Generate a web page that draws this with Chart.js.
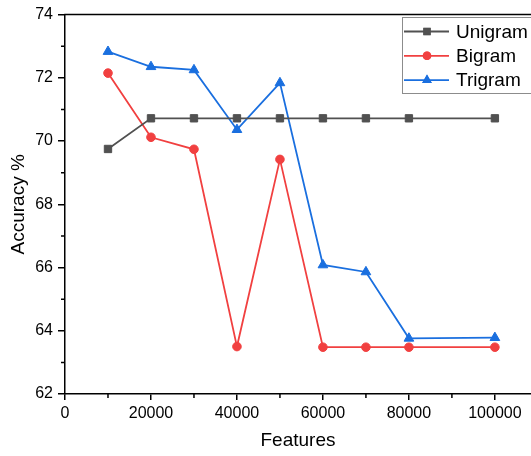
<!DOCTYPE html>
<html lang="en">
  <head>
    <meta charset="UTF-8" />
    <title>Accuracy vs features</title>
    <style>
      html, body { margin: 0; padding: 0; background: #fff; }
      #chart { display: block; }
    </style>
  </head>
  <body>
    <canvas id="chart" width="531" height="456"></canvas>
    <script src="https://cdn.jsdelivr.net/npm/chart.js@4"></script>
    <script>
      const features = [10000, 20000, 30000, 40000, 50000, 60000, 70000, 80000, 100000];
      const unigram = [69.75, 70.72, 70.72, 70.72, 70.72, 70.72, 70.72, 70.72, 70.72];
      const bigram = [72.15, 70.12, 69.74, 63.5, 69.42, 63.48, 63.48, 63.48, 63.48];
      const trigram = [72.83, 72.35, 72.25, 70.36, 71.84, 66.08, 65.86, 63.76, 63.78];
      const seriesNames = ["Unigram", "Bigram", "Trigram"];
      const yTicks = [62, 64, 66, 68, 70, 72, 74];
      const xTicks = [0, 20000, 40000, 60000, 80000, 100000];

      const FONT = "'Liberation Sans', Arial, sans-serif";
      const colors = ["#515151", "#F14040", "#1A6FDF"];
      const shapes = ["rect", "circle", "triangle"];
      const radii = [5.2, 4.3, 5.6];

      const toPoints = (ys) => features.map((x, i) => ({ x: x, y: ys[i] }));

      const datasets = [unigram, bigram, trigram].map((ys, i) => ({
        label: seriesNames[i],
        data: toPoints(ys),
        borderColor: colors[i],
        backgroundColor: colors[i],
        borderWidth: 1.8,
        pointStyle: shapes[i],
        pointRadius: radii[i],
        pointBorderWidth: 1,
        pointBorderColor: colors[i],
        pointBackgroundColor: colors[i],
        tension: 0,
      }));

      // minor ticks, top frame line and the Origin-like legend box
      const decor = {
        id: "decor",
        afterDraw(chart) {
          const ctx = chart.ctx;
          const area = chart.chartArea;
          const xs = chart.scales.x;
          const ys = chart.scales.y;
          ctx.save();
          ctx.strokeStyle = "#000";
          ctx.lineWidth = 1.5;
          ctx.beginPath();
          ctx.moveTo(area.left - 0.75, area.top);
          ctx.lineTo(area.right, area.top);
          for (let v = 63; v < 74; v += 2) {
            const py = ys.getPixelForValue(v);
            ctx.moveTo(area.left, py);
            ctx.lineTo(area.left - 4, py);
          }
          for (let v = 10000; v < 108000; v += 20000) {
            const px = xs.getPixelForValue(v);
            ctx.moveTo(px, area.bottom);
            ctx.lineTo(px, area.bottom + 4);
          }
          ctx.stroke();

          // legend
          const bx = 402, by = 17, bw = 140, bh = 76;
          ctx.strokeStyle = "#8c8c8c";
          ctx.lineWidth = 1;
          ctx.fillStyle = "#fff";
          ctx.fillRect(bx, by, bw, bh);
          ctx.strokeRect(bx + 0.5, by + 0.5, bw, bh);
          ctx.font = "19px " + FONT;
          ctx.textBaseline = "middle";
          chart.data.datasets.forEach((ds, i) => {
            const ry = 31.5 + i * 24.3;
            ctx.strokeStyle = ds.borderColor;
            ctx.lineWidth = 1.8;
            ctx.beginPath();
            ctx.moveTo(404, ry);
            ctx.lineTo(449, ry);
            ctx.stroke();
            ctx.fillStyle = ds.borderColor;
            Chart.helpers.drawPoint(ctx, { pointStyle: ds.pointStyle, radius: ds.pointRadius, borderWidth: 0 }, 427, ry);
            ctx.fill();
            ctx.fillStyle = "#000";
            ctx.fillText(ds.label, 456, ry + 1);
          });
          ctx.restore();
        },
      };

      new Chart(document.getElementById("chart"), {
        type: "line",
        data: { datasets: datasets },
        plugins: [decor],
        options: {
          responsive: false,
          animation: false,
          layout: { autoPadding: false, padding: { top: 13, right: 0, left: 0, bottom: 0 } },
          plugins: { legend: { display: false }, tooltip: { enabled: false } },
          scales: {
            x: {
              type: "linear",
              min: 0,
              max: 108400,
              afterBuildTicks: (s) => {
                s.ticks = xTicks.map((v) => ({ value: v }));
              },
              afterFit: (s) => {
                s.height = 62;
              },
              ticks: { color: "#000", font: { size: 16, family: FONT }, padding: 4, maxRotation: 0, callback: (v) => String(v) },
              grid: { drawOnChartArea: false, tickLength: 6, color: "#000", lineWidth: 1.5 },
              border: { color: "#000", width: 1.5 },
              title: { display: true, text: "Features", color: "#000", font: { size: 19, family: FONT }, padding: { top: 4, bottom: 4 } },
            },
            y: {
              min: 62,
              max: 74,
              afterBuildTicks: (s) => {
                s.ticks = yTicks.map((v) => ({ value: v }));
              },
              afterFit: (s) => {
                s.width = 65;
              },
              ticks: { color: "#000", font: { size: 16, family: FONT }, padding: 5 },
              grid: { drawOnChartArea: false, tickLength: 7, color: "#000", lineWidth: 1.5 },
              border: { color: "#000", width: 1.5 },
              title: { display: true, text: "Accuracy %", color: "#000", font: { size: 19, family: FONT }, padding: { top: 7, bottom: 4 } },
            },
          },
        },
      });
    </script>
  </body>
</html>
